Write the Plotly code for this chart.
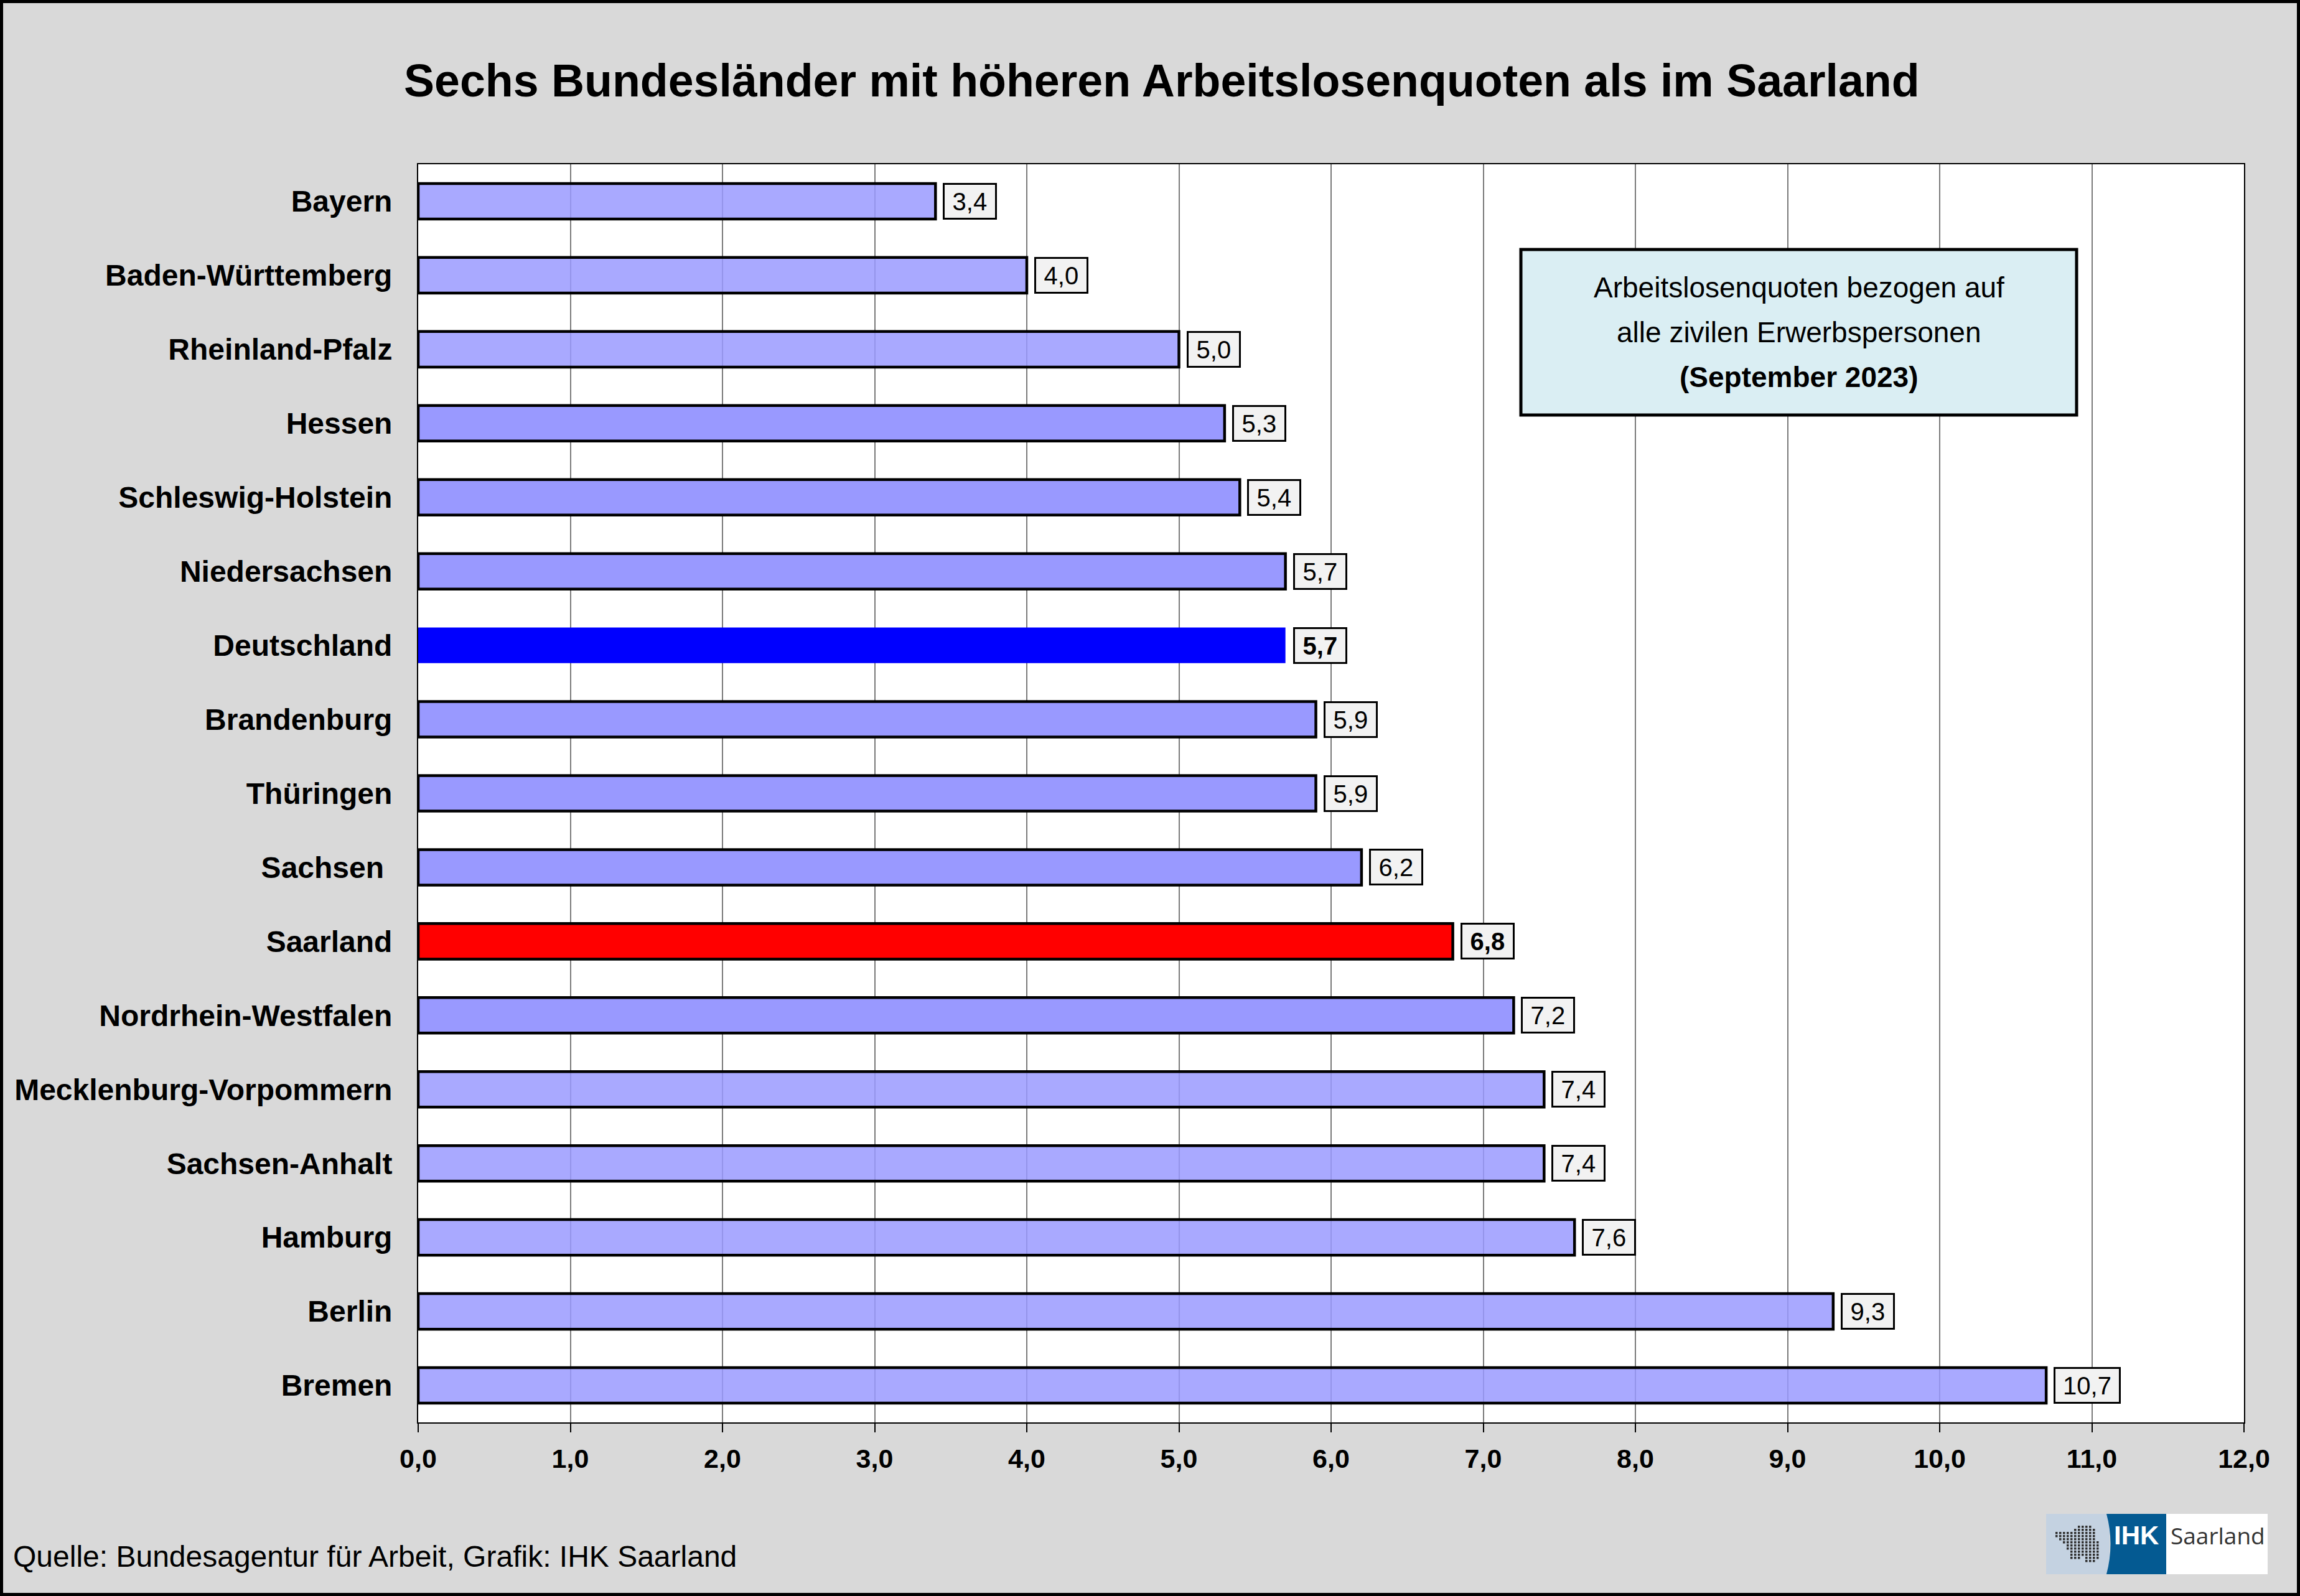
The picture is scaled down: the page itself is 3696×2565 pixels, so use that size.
import plotly.graph_objects as go

# ---------------- data ----------------
categories = [
    "Bayern", "Baden-Württemberg", "Rheinland-Pfalz", "Hessen",
    "Schleswig-Holstein", "Niedersachsen", "Deutschland", "Brandenburg",
    "Thüringen", "Sachsen\u00a0", "Saarland", "Nordrhein-Westfalen",
    "Mecklenburg-Vorpommern", "Sachsen-Anhalt", "Hamburg", "Berlin", "Bremen",
]
values = [3.4, 4.0, 5.0, 5.3, 5.4, 5.7, 5.7, 5.9, 5.9, 6.2, 6.8, 7.2, 7.4, 7.4, 7.6, 9.3, 10.7]
value_labels = ["3,4", "4,0", "5,0", "5,3", "5,4", "5,7", "5,7", "5,9", "5,9", "6,2", "6,8",
                "7,2", "7,4", "7,4", "7,6", "9,3", "10,7"]
x_tickvals = [0, 1, 2, 3, 4, 5, 6, 7, 8, 9, 10, 11, 12]
x_ticktext = ["0,0", "1,0", "2,0", "3,0", "4,0", "5,0", "6,0", "7,0", "8,0", "9,0", "10,0", "11,0", "12,0"]

title_text = "Sechs Bundesländer mit höheren Arbeitslosenquoten als im Saarland"
info_lines = ["Arbeitslosenquoten bezogen auf", "alle zivilen Erwerbspersonen", "<b>(September 2023)</b>"]
source_text = "Quelle: Bundesagentur für Arbeit, Grafik: IHK Saarland"

# ---------------- styling ----------------
light_bars = {"Bayern", "Baden-Württemberg", "Rheinland-Pfalz", "Mecklenburg-Vorpommern",
              "Sachsen-Anhalt", "Hamburg", "Berlin", "Bremen"}
highlight = {"Deutschland": "#0000ff", "Saarland": "#ff0000"}

colors, line_w = [], []
for c in categories:
    if c in highlight:
        colors.append(highlight[c])
    elif c in light_bars:
        colors.append("rgba(153,153,255,0.84)")
    else:
        colors.append("#9999ff")
    line_w.append(0 if c == "Deutschland" else 4.5)

W, H = 3696, 2565
ML, MR, MT, MB = 672, 90, 264, 279
PW, PH = W - ML - MR, H - MT - MB
FONT = "Liberation Sans, Arial, sans-serif"


def px(xp):
    return (xp - ML) / PW


def py(yp):
    return (H - MB - yp) / PH


fig = go.Figure()
fig.add_trace(go.Bar(
    y=categories, x=values, orientation="h",
    marker=dict(color=colors, line=dict(color="#000000", width=line_w)),
    hoverinfo="x+y", showlegend=False,
))

# value label boxes
em = {"0": .556, "1": .556, "2": .556, "3": .556, "4": .556, "5": .556, "6": .556,
      "7": .556, "8": .556, "9": .556, ",": .278}
annotations = []
for c, v, t in zip(categories, values, value_labels):
    fs = 40
    wtxt = sum(em.get(ch, .556) for ch in t) * 38 + 28
    bold = c in highlight
    annotations.append(dict(
        x=v, y=c, xref="x", yref="y", xanchor="left", yanchor="middle",
        xshift=12, text=f"<b>{t}</b>" if bold else t, showarrow=False,
        font=dict(family=FONT, size=fs, color="#000000"),
        bgcolor="#f2f2f2", bordercolor="#000000", borderwidth=3, borderpad=0,
        width=wtxt, height=53, align="center", valign="middle",
    ))

# title
annotations.append(dict(
    x=px(1867), y=py(130), xref="paper", yref="paper", xanchor="center", yanchor="middle",
    text=f"<b>{title_text}</b>", showarrow=False,
    font=dict(family=FONT, size=73.5, color="#000000"),
))

# info box text
for ln, yy in zip(info_lines, [462, 534, 606]):
    annotations.append(dict(
        x=px((2444 + 3337) / 2), y=py(yy), xref="paper", yref="paper",
        xanchor="center", yanchor="middle", text=ln, showarrow=False,
        font=dict(family=FONT, size=46, color="#000000"),
    ))

# source
annotations.append(dict(
    x=px(19), y=py(2501), xref="paper", yref="paper", xanchor="left", yanchor="middle",
    text=source_text, showarrow=False, font=dict(family=FONT, size=48, color="#000000"),
))

# logo texts
annotations.append(dict(
    x=px(3433), y=py(2467), xref="paper", yref="paper", xanchor="center", yanchor="middle",
    text="<b>IHK</b>", showarrow=False, font=dict(family=FONT, size=42, color="#ffffff"),
))
annotations.append(dict(
    x=px(3564), y=py(2467), xref="paper", yref="paper", xanchor="center", yanchor="middle",
    text="Saarland", showarrow=False, font=dict(family="Open Sans, Liberation Sans, sans-serif", size=37, color="#333333"),
))

shapes = []
# info box
shapes.append(dict(type="rect", xref="paper", yref="paper",
                   x0=px(2444), x1=px(3337), y0=py(667), y1=py(401),
                   fillcolor="#daeef3", line=dict(color="#000000", width=5), layer="above"))
# logo parts
shapes.append(dict(type="rect", xref="paper", yref="paper",
                   x0=px(3288), x1=px(3390), y0=py(2530), y1=py(2433),
                   fillcolor="#c4d2e1", line=dict(width=0), layer="above"))
shapes.append(dict(type="path", xref="paper", yref="paper",
                   path=(f"M {px(3385)},{py(2433)} Q {px(3398)},{py(2481)} {px(3385)},{py(2530)} "
                         f"L {px(3481)},{py(2530)} L {px(3481)},{py(2433)} Z"),
                   fillcolor="#045a92", line=dict(width=0), layer="above"))
shapes.append(dict(type="rect", xref="paper", yref="paper",
                   x0=px(3481), x1=px(3644), y0=py(2530), y1=py(2433),
                   fillcolor="#ffffff", line=dict(width=0), layer="above"))
# logo dotted map (decoration)
mask = [
    "......####..",
    ".....######.",
    "###########.",
    "###########.",
    ".##########.",
    "..##########",
    "...#########",
    "...#########",
    "....########",
    "....########",
    "....###.####",
    "........###.",
]
for r, row in enumerate(mask):
    for cidx, ch in enumerate(row):
        if ch == "#":
            x0 = 3303 + cidx * 6.0
            y0 = 2452 + r * 5.0
            shapes.append(dict(type="rect", xref="paper", yref="paper",
                               x0=px(x0), x1=px(x0 + 3.5), y0=py(y0 + 3.5), y1=py(y0),
                               fillcolor="#2e2e2e", line=dict(width=0), layer="above"))
# outer frame
shapes.append(dict(type="rect", xref="paper", yref="paper",
                   x0=px(0), x1=px(W), y0=py(H), y1=py(0),
                   fillcolor="rgba(0,0,0,0)", line=dict(color="#000000", width=10), layer="above"))

fig.update_layout(
    width=W, height=H,
    margin=dict(l=ML, r=MR, t=MT, b=MB, pad=0),
    paper_bgcolor="#d9d9d9", plot_bgcolor="#ffffff",
    bargap=0.52,
    font=dict(family=FONT, color="#000000"),
    annotations=annotations, shapes=shapes,
    xaxis=dict(
        range=[0, 12], tickvals=x_tickvals, ticktext=x_ticktext,
        showgrid=True, gridcolor="#7a7a7a", gridwidth=2,
        showline=True, linecolor="#000000", linewidth=2, mirror=True,
        ticks="outside", ticklen=14, tickwidth=2, tickcolor="#000000",
        tickfont=dict(family=FONT, size=43, color="#000000", weight="bold"),
        ticklabelstandoff=5, zeroline=False, fixedrange=True,
    ),
    yaxis=dict(
        autorange="reversed", type="category",
        showgrid=False, showline=True, linecolor="#000000", linewidth=2, mirror=True,
        ticks="outside", ticklen=30, tickcolor="rgba(0,0,0,0)",
        tickfont=dict(family=FONT, size=48, color="#000000", weight="bold"),
        fixedrange=True,
    ),
)

fig.write_html(
    "out.html",
    config={"displayModeBar": False},
    post_script="document.body.style.margin='0';document.body.style.padding='0';",
)
